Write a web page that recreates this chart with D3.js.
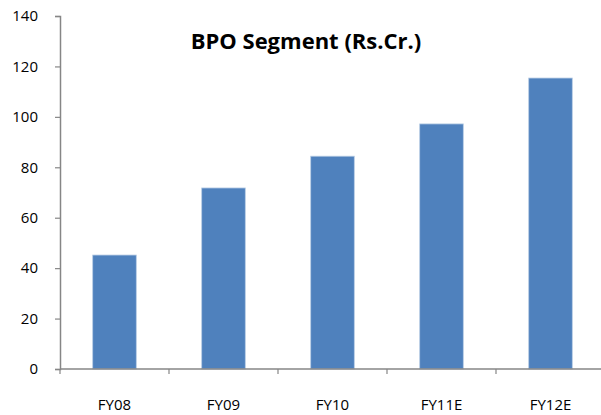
<!DOCTYPE html>
<html>
<head>
<meta charset="utf-8">
<script src="https://cdn.jsdelivr.net/npm/d3@7"></script>
<style>
    body { margin: 0; background: #fff; }
    svg text { font-family: "Open Sans", "Liberation Sans", sans-serif; fill: #000; }
</style>
</head>
<body>
<div id="chart"></div>
<script>
// Chart data
let categories = ["FY08", "FY09", "FY10", "FY11E", "FY12E"];
let values = [45.2, 71.8, 84.4, 97.2, 115.4];
let yTicks = [0, 20, 40, 60, 80, 100, 120, 140];
let title = "BPO Segment (Rs.Cr.)";

let width = 601, height = 415;
let margin = {top: 16, left: 60, right: -4, bottom: 46};

let svg = d3.select("#chart").append("svg")
    .attr("width", width)
    .attr("height", height);

// Scales
let x = d3.scaleBand()
    .domain(categories)
    .range([margin.left, width - margin.right])
    .padding(0);

let y = d3.scaleLinear()
    .domain([0, 140])
    .range([height - margin.bottom, margin.top]);

// Bars
let barW = x.bandwidth() * 0.4;
svg.selectAll(".bar")
    .data(values)
    .enter()
    .append("rect")
    .attr("class", "bar")
    .attr("x", (d, i) => x(categories[i]) + x.bandwidth() / 2 - barW / 2)
    .attr("y", d => y(d))
    .attr("width", barW)
    .attr("height", d => y(0) - y(d))
    .attr("fill", "#4F81BD")
    .attr("stroke", "#B9CDE5")
    .attr("stroke-width", 0.8);

// Y axis
let yAxis = d3.axisLeft(y)
    .tickValues(yTicks)
    .tickSize(5)
    .tickPadding(17);

let gy = svg.append("g")
    .attr("transform", "translate(" + margin.left + ",0)")
    .call(yAxis);
gy.select(".domain").attr("stroke", "#868686").attr("stroke-width", 1.5);
gy.selectAll(".tick line").attr("stroke", "#868686").attr("stroke-width", 1.2);
gy.selectAll(".tick text").style("font-size", "15px");

// X axis
let gx = svg.append("g")
    .attr("transform", "translate(0," + y(0) + ")");
gx.append("line")
    .attr("x1", margin.left).attr("x2", width)
    .attr("stroke", "#868686").attr("stroke-width", 1.5);

let xTicks = categories.map(c => x(c)).concat([x.range()[1]]);
gx.selectAll(".xtick")
    .data(xTicks)
    .enter()
    .append("line")
    .attr("x1", d => d).attr("x2", d => d)
    .attr("y1", 0).attr("y2", 5)
    .attr("stroke", "#868686").attr("stroke-width", 1.2);

gx.selectAll(".xlabel")
    .data(categories)
    .enter()
    .append("text")
    .attr("x", d => x(d) + x.bandwidth() / 2)
    .attr("y", 41)
    .attr("text-anchor", "middle")
    .style("font-size", "15px")
    .text(d => d);

// Title
svg.append("text")
    .attr("x", 306)
    .attr("y", 49)
    .attr("text-anchor", "middle")
    .style("font-size", "22px")
    .style("font-weight", "bold")
    .text(title);
</script>
</body>
</html>
